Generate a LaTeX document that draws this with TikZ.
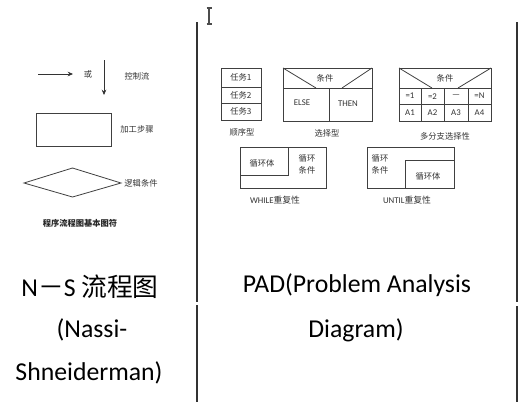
\documentclass[tikz,border=0pt]{standalone}
\usepackage{fontspec}
\setmainfont{Carlito}
\newfontfamily\cjk{Noto Sans CJK SC}
\usetikzlibrary{arrows.meta}
\begin{document}
\begin{tikzpicture}[x=0.75pt,y=-0.75pt,
  shp/.style={draw=black!75, line width=0.6pt},
  lbl/.style={font=\cjk\fontsize{6.2}{7.5}\selectfont, text=black!80, inner sep=0pt, align=center},
  lat/.style={font=\fontsize{6.6}{7.5}\selectfont, text=black!80, inner sep=0pt},
  figcap/.style={font=\cjk\bfseries\fontsize{6.2}{7.5}\selectfont, text=black!85, inner sep=0pt},
  big/.style={font=\fontsize{19.3}{22}\selectfont, text=black, inner sep=0pt},
  tabrule/.style={draw=black!80, line width=1.5pt},
  arr/.style={draw=black!80, line width=0.6pt, -{Stealth[length=4pt,width=3.5pt]}}]
\useasboundingbox (0,0) rectangle (523,408);
\fill[white] (0,0) rectangle (523,408);

% table rules
\coordinate (m1) at (197,22); \coordinate (m2) at (197,302);
\coordinate (m3) at (197,305); \coordinate (m4) at (197,402);
\coordinate (r1) at (517,22); \coordinate (r2) at (517,302);
\coordinate (r3) at (517,306); \coordinate (r4) at (517,402);
\draw[tabrule] (m1) -- (m2); \draw[tabrule] (m3) -- (m4);
\draw[tabrule] (r1) -- (r2); \draw[tabrule] (r3) -- (r4);

% text cursor
\draw[black!70, line width=0.8pt] (209,8) -- (209,24) (206.5,8) -- (211.5,8) (206.5,24) -- (211.5,24);

% ---- left: basic symbols
\coordinate (ha) at (38,74); \coordinate (hb) at (73,74);
\draw[arr] (ha) -- (hb);
\node[lbl] (huo) at (88,74) {或};
\coordinate (va) at (104,60); \coordinate (vb) at (104,95);
\draw[arr] (va) -- (vb);
\node[lbl] (kzl) at (137,76) {控制流};
\draw[shp] (36,113) rectangle (111,146);
\node[lbl] (jgbz) at (137,129) {加工步骤};
\draw[shp] (24,183) -- (72.5,168) -- (121,183) -- (72.5,197) -- cycle;
\node[lbl] (ljtj) at (141,183) {逻辑条件};
\node[figcap] (fig) at (80,223) {程序流程图基本图符};

% ---- sequence
\draw[shp] (221,68) rectangle (261,120);
\draw[shp] (221,87) -- (261,87) (221,103) -- (261,103);
\node[lbl] (t1) at (241,77.5) {任务1};
\node[lbl] (t2) at (241,95) {任务2};
\node[lbl] (t3) at (241,111.5) {任务3};
\node[lbl] (sxx) at (242,132) {顺序型};

% ---- selection
\draw[shp] (283,68) rectangle (372,121);
\draw[shp] (283,88) -- (372,88);
\draw[shp] (283,68) -- (316,88) (372,68) -- (342,88);
\draw[shp] (329,88) -- (329,121);
\node[lbl] (tj1) at (325,78) {条件};
\node[lat] (else) at (302,103) {ELSE};
\node[lat] (then) at (348,104) {THEN};
\node[lbl] (xzx) at (327,133) {选择型};

% ---- multi-branch
\draw[shp] (399,68) rectangle (491,121);
\draw[shp] (399,88) -- (491,88) (399,104) -- (491,104);
\draw[shp] (399,68) -- (432,88) (491,68) -- (458,88);
\draw[shp] (421,88) -- (421,121) (444,88) -- (444,121) (468,88) -- (468,121);
\node[lbl] (tj2) at (445,78) {条件};
\node[lat] (e1) at (410,96) {=1};
\node[lat] (e2) at (432.5,96.5) {=2};
\node[lat] (e3) at (456,96) {---};
\node[lat] (e4) at (479.5,96) {=N};
\node[lat] (a1) at (410,112.5) {A1};
\node[lat] (a2) at (432.5,113) {A2};
\node[lat] (a3) at (456,113) {A3};
\node[lat] (a4) at (479.5,113) {A4};
\node[lbl] (dfz) at (445,136) {多分支选择性};

% ---- WHILE
\draw[shp] (240,147) rectangle (326,188);
\draw[shp] (240,175) -- (288,175) -- (288,147);
\node[lbl] (xht1) at (262,163) {循环体};
\node[lbl] (xhtj1) at (307,164.5) {循环\\[1pt]条件};
\node[lat] (while) at (275,200) {WHILE\cjk{}重复性};

% ---- UNTIL
\draw[shp] (367,147) rectangle (454,188);
\draw[shp] (405,188) -- (405,160) -- (454,160);
\node[lbl, align=left] (xhtj2) at (380,164.5) {循环\\[1pt]条件};
\node[lbl] (xht2) at (428,176) {循环体};
\node[lat] (until) at (407,200) {UNTIL\cjk{}重复性};

% ---- big captions
\node[big] (ns) at (90,287) {N{\cjk －}S {\cjk 流程图}};
\node[big] (nassi) at (92,330) {(Nassi-};
\node[big] (shn) at (89,373) {Shneiderman)};
\node[big] (pad) at (357,285) {PAD(Problem Analysis};
\node[big] (diag) at (356,330) {Diagram)};
\end{tikzpicture}
\end{document}
